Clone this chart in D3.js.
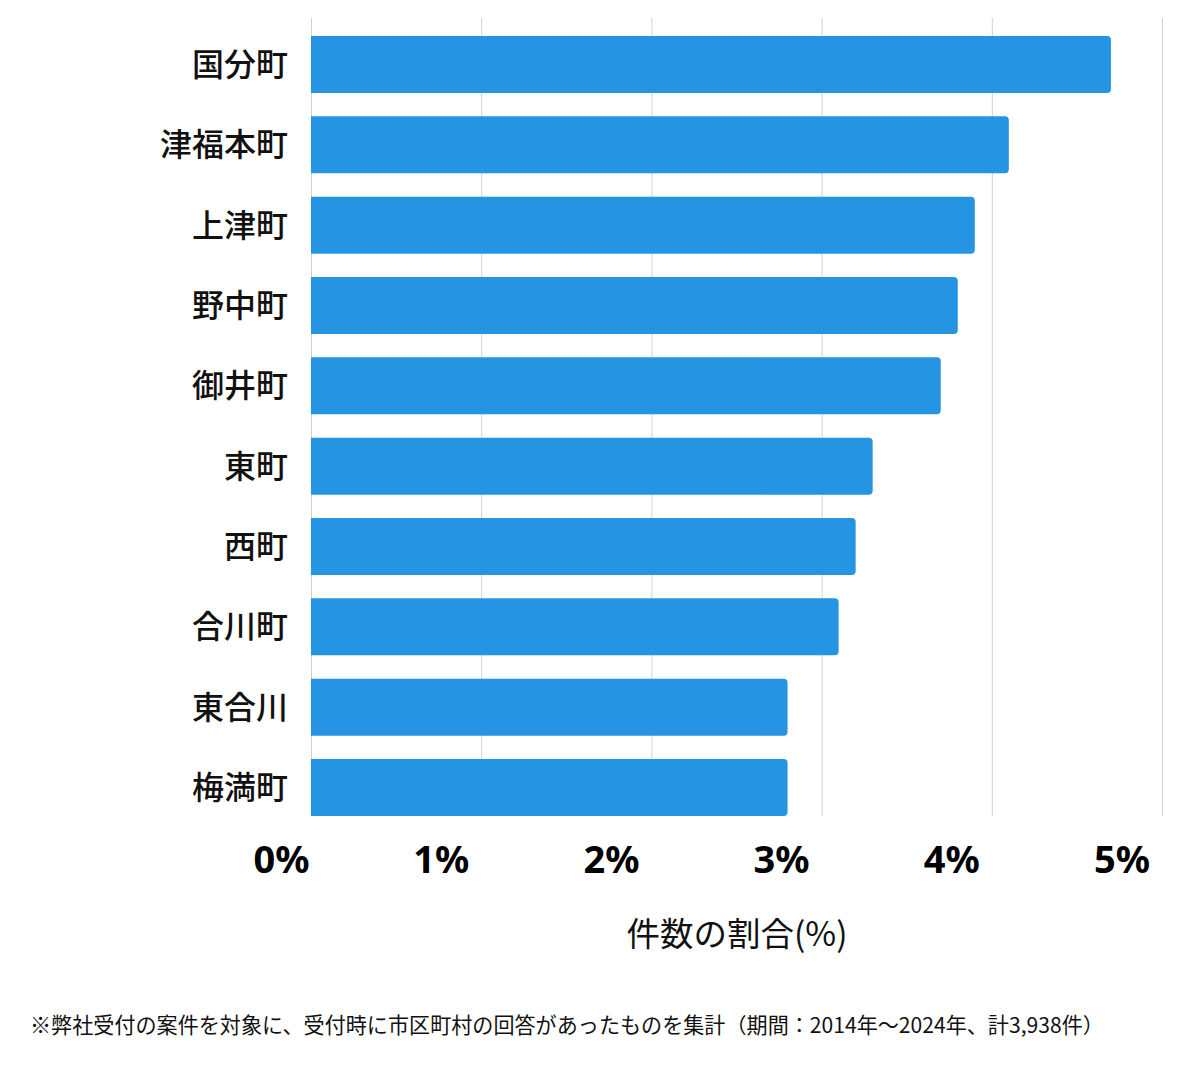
<!DOCTYPE html>
<html><head><meta charset="utf-8">
<script src="https://cdn.jsdelivr.net/npm/d3@7"></script>
<style>
html,body{margin:0;padding:0;background:#fff;}
svg{display:block;}
</style>
</head><body>
<svg id="chart" width="1200" height="1069"></svg>
<script>
const categories = ["国分町","津福本町","上津町","野中町","御井町","東町","西町","合川町","東合川","梅満町"];
const values = [4.70, 4.10, 3.90, 3.80, 3.70, 3.30, 3.20, 3.10, 2.80, 2.80];
const tickValues = [0, 1, 2, 3, 4, 5];
const tickLabels = ["0%","1%","2%","3%","4%","5%"];
const axisTitle = "件数の割合(%)";
const footnote = "※弊社受付の案件を対象に、受付時に市区町村の回答があったものを集計（期間：2014年～2024年、計3,938件）";

const svg = d3.select("#chart");
const font = "'Noto Sans CJK JP','Noto Sans',sans-serif";

const x = d3.scaleLinear().domain([0, 5]).range([311, 1162]);
const y = d3.scaleBand().domain(categories).range([36, 816]).paddingInner(0.29).paddingOuter(0);

// gridlines
svg.append("g").selectAll("line").data(tickValues).join("line")
  .attr("x1", d => x(d) + 0.5).attr("x2", d => x(d) + 0.5)
  .attr("y1", 18).attr("y2", 816)
  .attr("stroke", "#d0d0d0").attr("stroke-width", 1);

// bars with rounded right corners
const r = 4;
svg.append("g").selectAll("path").data(categories).join("path")
  .attr("d", (c, i) => {
    const x0 = x(0), x1 = x(values[i]), y0 = y(c), h = y.bandwidth();
    return `M${x0},${y0}H${x1 - r}Q${x1},${y0} ${x1},${y0 + r}V${y0 + h - r}Q${x1},${y0 + h} ${x1 - r},${y0 + h}H${x0}Z`;
  })
  .attr("fill", "#2594e3");

// category labels
svg.append("g").selectAll("text").data(categories).join("text")
  .attr("x", 288)
  .attr("y", c => y(c) + y.bandwidth() / 2)
  .attr("dy", "0.36em")
  .attr("text-anchor", "end")
  .attr("font-family", font)
  .attr("font-size", 32)
  .attr("font-weight", 500)
  .attr("fill", "#111")
  .text(c => c);

// tick labels
svg.append("g").selectAll("text").data(tickValues).join("text")
  .attr("x", d => Math.max(x(d) - 40, x(0) - 29.5))
  .attr("y", 873)
  .attr("text-anchor", "middle")
  .attr("font-family", "'Noto Sans',sans-serif")
  .attr("font-size", 38)
  .attr("font-weight", 700)
  .attr("fill", "#000")
  .text((d, i) => tickLabels[i]);

// axis title
svg.append("text")
  .attr("x", 737).attr("y", 946)
  .attr("text-anchor", "middle")
  .attr("font-family", font)
  .attr("font-size", 33.5)
  .attr("fill", "#111")
  .text(axisTitle);

// footnote
svg.append("text")
  .attr("x", 30).attr("y", 1033)
  .attr("font-family", font)
  .attr("font-size", 21.1)
  .attr("fill", "#111")
  .text(footnote);
</script>
</body></html>
